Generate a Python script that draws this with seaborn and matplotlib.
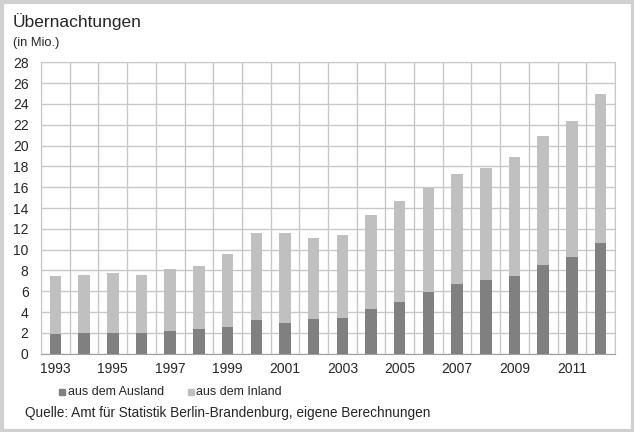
import matplotlib
matplotlib.use("Agg")
import matplotlib.pyplot as plt
import seaborn as sns
import pandas as pd
from matplotlib.patches import Rectangle

years = list(range(1993, 2013))
ausland = [1.9, 2.0, 2.0, 2.0, 2.2, 2.4, 2.6, 3.2, 3.0, 3.3, 3.4, 4.3, 5.0, 5.9, 6.7, 7.1, 7.5, 8.5, 9.3, 10.6]
gesamt = [7.5, 7.6, 7.8, 7.6, 8.1, 8.4, 9.6, 11.6, 11.6, 11.1, 11.4, 13.3, 14.7, 15.9, 17.3, 17.8, 18.9, 20.9, 22.4, 24.9]
inland = [round(g - a, 2) for g, a in zip(gesamt, ausland)]
yticks = list(range(0, 29, 2))

df = pd.DataFrame({"Jahr": [str(y) for y in years], "Ausland": ausland, "Inland": inland})
df["Gesamt"] = df["Ausland"] + df["Inland"]

sns.set_style("white")
plt.rcParams["font.family"] = ["Liberation Sans", "DejaVu Sans"]

fig = plt.figure(figsize=(6.34, 4.32), dpi=100)
ax = fig.add_axes([0.0647, 0.181, 0.9053, 0.675])

dark = "#808080"
light = "#c0c0c0"
sns.barplot(data=df, x="Jahr", y="Gesamt", color=light, width=0.4, ax=ax, saturation=1,
            zorder=3, linewidth=0)
sns.barplot(data=df, x="Jahr", y="Ausland", color=dark, width=0.4, ax=ax, saturation=1,
            zorder=3, linewidth=0)

n = len(years)
ax.set_xlim(-0.5, n - 0.5)
ax.set_ylim(0, 28)
ax.set_yticks(yticks)
ax.set_yticklabels([str(t) for t in yticks], fontsize=10)
ax.set_xticks(range(0, n, 2))
ax.set_xticklabels([str(years[i]) for i in range(0, n, 2)], fontsize=10)
ax.set_xticks([i - 0.5 for i in range(n + 1)], minor=True)
ax.tick_params(axis="y", length=0, pad=9)
ax.tick_params(axis="x", length=0, pad=6)
ax.tick_params(axis="x", which="minor", length=0)
ax.set_xlabel("")
ax.set_ylabel("")
ax.grid(axis="y", color="#c8c8c8", linewidth=1, zorder=0)
ax.grid(axis="x", which="minor", color="#c8c8c8", linewidth=1, zorder=0)
ax.grid(axis="x", which="major", visible=False)
for s in ["top", "right", "left"]:
    ax.spines[s].set_color("#c8c8c8")
ax.spines["bottom"].set_color("#a0a0a0")

# Titles
fig.text(13 / 634, 1 - 22 / 432, "Übernachtungen", fontsize=12.5, va="center", ha="left")
fig.text(13 / 634, 1 - 43 / 432, "(in Mio.)", fontsize=9.3, va="center", ha="left")

# Legend
fig.patches.append(Rectangle((59 / 634, 1 - 395 / 432), 6 / 634, 6 / 432, transform=fig.transFigure, color=dark))
fig.text(68 / 634, 1 - 392 / 432, "aus dem Ausland", fontsize=9, va="center", ha="left")
fig.patches.append(Rectangle((188 / 634, 1 - 395 / 432), 6 / 634, 6 / 432, transform=fig.transFigure, color=light))
fig.text(196 / 634, 1 - 392 / 432, "aus dem Inland", fontsize=9, va="center", ha="left")

fig.text(25 / 634, 1 - 413 / 432, "Quelle: Amt für Statistik Berlin-Brandenburg, eigene Berechnungen",
         fontsize=9.8, va="center", ha="left")

# Frame border
fig.patches.append(Rectangle((1.5 / 634, 1.5 / 432), 1 - 3 / 634, 1 - 3 / 432, transform=fig.transFigure,
                             fill=False, edgecolor="#d0d0d0", linewidth=3))

fig.savefig("out.png", dpi=100)
